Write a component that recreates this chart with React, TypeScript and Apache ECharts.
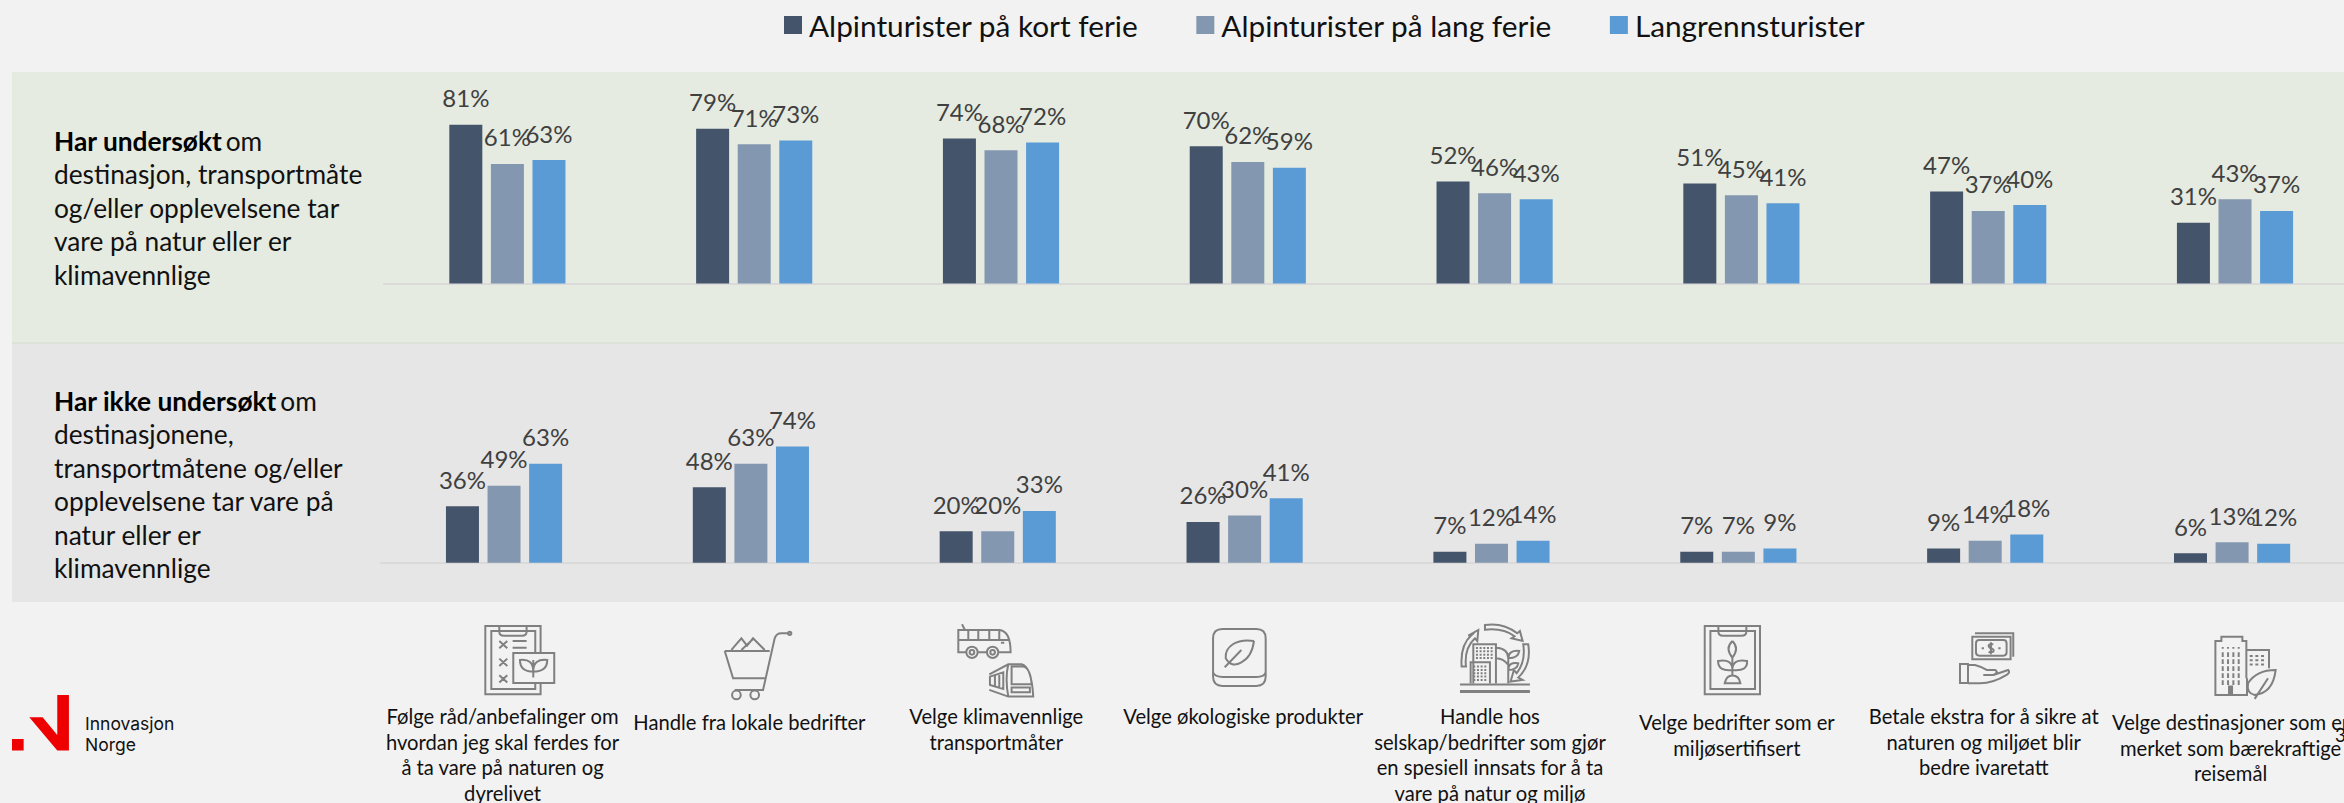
import React, { useEffect, useRef } from "react";
import * as echarts from "echarts";

const FONT = "Lato";
const categories = [
  "Følge råd/anbefalinger om\nhvordan jeg skal ferdes for\nå ta vare på naturen og\ndyrelivet",
  "Handle fra lokale bedrifter",
  "Velge klimavennlige\ntransportmåter",
  "Velge økologiske produkter",
  "Handle hos\nselskap/bedrifter som gjør\nen spesiell innsats for å ta\nvare på natur og miljø",
  "Velge bedrifter som er\nmiljøsertifisert",
  "Betale ekstra for å sikre at\nnaturen og miljøet blir\nbedre ivaretatt",
  "Velge destinasjoner som er\nmerket som bærekraftige\nreisemål",
];
const seriesNames = ["Alpinturister på kort ferie", "Alpinturister på lang ferie", "Langrennsturister"];
const colors = ["#44546A", "#8497B0", "#5B9BD5"];

const checkedKort = [81, 79, 74, 70, 52, 51, 47, 31];
const checkedLang = [61, 71, 68, 62, 46, 45, 37, 43];
const checkedLangrenn = [63, 73, 72, 59, 43, 41, 40, 37];
const uncheckedKort = [36, 48, 20, 26, 7, 7, 9, 6];
const uncheckedLang = [49, 63, 20, 30, 12, 7, 14, 13];
const uncheckedLangrenn = [63, 74, 33, 41, 14, 9, 18, 12];

const checkedText = "{b|Har undersøkt} {n|om}\n{n|destinasjon, transportmåte}\n{n|og/eller opplevelsene tar}\n{n|vare på natur eller er}\n{n|klimavennlige}";
const uncheckedText = "{b|Har ikke undersøkt} {n|om}\n{n|destinasjonene,}\n{n|transportmåtene og/eller}\n{n|opplevelsene tar vare på}\n{n|natur eller er}\n{n|klimavennlige}";

const circ = (x: number, y: number, r: number) =>
  `M${x - r} ${y}a${r} ${r} 0 1 0 ${2 * r} 0a${r} ${r} 0 1 0 ${-2 * r} 0Z`;
const rect = (x: number, y: number, w: number, h: number) => `M${x} ${y}h${w}v${h}h${-w}Z`;
const dots = (x0: number, y0: number, cols: number, rows: number, dx: number, dy: number, w: number, h: number) => {
  let d = "";
  for (let i = 0; i < cols; i++) for (let j = 0; j < rows; j++) d += rect(x0 + i * dx, y0 + j * dy, w, h);
  return d;
};

const ICONS: Record<string, string> = {
  i1:
    "M212 204V238H46V33H212V114M196 204V222H64V48H196V114M88 33V50Q88 62 102 62H156Q170 62 170 50V33" +
    "M88 78L112 100M112 78L88 100M88 131L112 153M112 131L88 153M88 181L112 203M112 181L88 203M128 78H170M128 98H170" +
    rect(130, 114, 123, 90) +
    "M190 135V188M190 170Q150 170 150 135Q190 130 190 170M190 170Q232 170 232 135Q190 130 190 170",
  i2:
    "M765 108H900M765 108L790 190H885M960 55H935Q920 55 915 70L880 225H795" +
    "M785 105L815 70L832 92L850 70L885 105M815 105L850 72" +
    circ(800, 240, 13) + circ(855, 240, 13) + circ(960, 55, 5),
  i3:
    "M82 112H55V45H180Q212 50 212 112H175M112 112H142M55 75H205M85 45V75M115 45V75M148 45V75M178 45V75M75 45L66 28M183 83H193" +
    circ(96, 112, 17) + circ(96, 112, 7) + circ(158, 112, 17) + circ(158, 112, 7) +
    "M148 178L205 148H245Q275 155 280 245H205L148 225M205 148Q195 190 205 245M215 155H250Q272 160 275 208H215Z" +
    rect(215, 218, 55, 14) + "M150 185L190 172V222L150 210ZM165 180V215M178 176V218",
  i4:
    "M848 42H950Q978 42 978 70V185Q978 213 950 213H848Q820 213 820 185V70Q820 42 848 42Z" +
    "M820 172Q825 186 850 186H950Q975 186 978 172" +
    "M943 78C890 70 855 95 858 130Q875 160 905 142C930 130 940 100 943 78M855 157L905 105",
  i5:
    "M60 209H270M100 205V88H168V142M92 205V142H150V205M168 142V205" +
    "M205 205V130M168 98Q205 100 205 130M205 130Q235 130 238 108Q205 105 205 130M205 165Q232 165 235 145Q205 140 205 165M168 130Q190 130 205 150" +
    "M135 30Q190 22 232 55L240 48L248 78L215 70L224 64Q190 38 135 44Z" +
    "M65 155Q60 90 95 60L85 62L115 45L112 78L105 70Q72 100 78 155Z" +
    "M250 88L265 88Q275 150 235 188L248 195L212 200L222 165L230 175Q258 140 250 88Z",
  i5dots: dots(108, 96, 5, 4, 11, 10, 6, 6) + dots(100, 152, 4, 5, 11, 10, 6, 6) + rect(60, 225, 210, 9),
  i6:
    rect(795, 33, 166, 205) + rect(812, 48, 134, 174) +
    "M836 33V50Q836 62 850 62H905Q920 62 920 50V33" +
    "M878 78Q855 100 878 128Q900 100 878 78M878 128V182M878 165Q835 170 835 138Q878 130 878 165M878 165Q925 170 922 138Q878 130 878 165M855 205Q860 182 878 182Q898 182 902 205Z",
  i7:
    "M105 55H220V125M97 65H212V133H97Z" +
    "M118 75H190Q200 75 200 85V112Q200 122 190 122H118Q108 122 108 112V85Q108 75 118 75Z" +
    "M160 88Q148 85 146 92Q148 100 155 100Q164 104 160 110Q152 114 146 110M153 82V118M125 100H132M175 100H182" +
    rect(60, 147, 24, 57) +
    "M84 150H105Q125 155 140 165H165Q178 172 160 180H130M160 180L205 165Q212 172 200 180Q160 205 120 205H84",
  i8:
    "M922 190V240H827V78H845V65H908V78H920V190M922 105H988V160M945 252L985 190M1008 165Q950 165 925 205Q920 235 945 240Q1000 235 1008 165Z",
  i8dots: dots(846, 96, 4, 1, 16, 0, 6, 5) + dots(846, 112, 4, 5, 16, 21, 6, 14) + dots(930, 120, 3, 3, 17, 13, 9, 6) + rect(865, 212, 15, 28),
  logo: "M88 97H128L172 150V30H207V197H172ZM36 162H71V197H36Z",
};
Object.keys(ICONS).forEach((k) => {
  echarts.graphic.registerShape("ico_" + k, echarts.graphic.extendPath(ICONS[k], {}));
});

const GREY = "#808080";
const icon = (k: string, x: number, y: number, fill = false) => ({
  type: "ico_" + k,
  x,
  y,
  scaleX: 1 / 3,
  scaleY: 1 / 3,
  silent: true,
  style: fill ? { fill: GREY, stroke: "none" } : { fill: "none", stroke: GREY, lineWidth: 6 },
});

const barSeries = (name: string, data: number[], color: string, idx: number) => ({
  name,
  type: "bar",
  xAxisIndex: idx,
  yAxisIndex: idx,
  data,
  barWidth: 33,
  barGap: "26%",
  itemStyle: { color },
  label: {
    show: true,
    position: "top",
    distance: 15,
    formatter: "{c}%",
    fontFamily: FONT,
    fontSize: 24,
    color: "#404040",
  },
});

const catData = categories.map((value, i) => ({
  value,
  textStyle: { padding: i === 1 || i === 5 || i === 7 ? [6, 3, 0, 0] : [0, 3, 0, 0] },
}));

export default function App() {
  const ref = useRef<HTMLDivElement>(null);
  useEffect(() => {
    const chart = echarts.init(ref.current!, undefined, { renderer: "svg" });
    const axisLine = { show: true, lineStyle: { color: "#DADADA", width: 2 } };
    const yAxis = (gridIndex: number) => ({ type: "value", gridIndex, min: 0, max: 100, show: false });
    const rich = {
      b: { fontFamily: FONT, fontSize: 26.3, fontWeight: "bold", lineHeight: 33.5, fill: "#000" },
      n: { fontFamily: FONT, fontSize: 26.3, lineHeight: 33.5, fill: "#111" },
    };
    chart.setOption({
      animation: false,
      backgroundColor: "#F2F2F2",
      legend: {
        left: 784,
        top: 10,
        padding: 0,
        icon: "rect",
        itemWidth: 18,
        itemHeight: 18,
        itemGap: 58,
        selectedMode: false,
        data: seriesNames,
        textStyle: { fontFamily: FONT, fontSize: 29.8, color: "#111111", padding: [0, 0, 0, 2] },
      },
      grid: [
        { left: 384, width: 1974.4, top: 87.5, height: 196, outerBoundsMode: "none" },
        { left: 380.6, width: 1974.9, top: 405.7, height: 157, outerBoundsMode: "none" },
      ],
      xAxis: [
        {
          type: "category",
          gridIndex: 0,
          data: categories,
          axisLine,
          axisTick: { show: false },
          axisLabel: { show: false },
        },
        {
          type: "category",
          gridIndex: 1,
          data: catData,
          axisLine,
          axisTick: { show: false },
          axisLabel: {
            show: true,
            interval: 0,
            margin: 141,
            hideOverlap: false,
            fontFamily: FONT,
            fontSize: 20.2,
            lineHeight: 25.5,
            color: "#111111",
            align: "center",
            verticalAlign: "top",
          },
        },
      ],
      yAxis: [yAxis(0), yAxis(1)],
      series: [
        barSeries(seriesNames[0], checkedKort, colors[0], 0),
        barSeries(seriesNames[1], checkedLang, colors[1], 0),
        barSeries(seriesNames[2], checkedLangrenn, colors[2], 0),
        barSeries(seriesNames[0], uncheckedKort, colors[0], 1),
        barSeries(seriesNames[1], uncheckedLang, colors[1], 1),
        barSeries(seriesNames[2], uncheckedLangrenn, colors[2], 1),
      ],
      graphic: [
        { type: "rect", z: -5, silent: true, shape: { x: 12, y: 72, width: 2332, height: 270 }, style: { fill: "#E5EBE0" } },
        { type: "rect", z: -5, silent: true, shape: { x: 12, y: 342, width: 2332, height: 2 }, style: { fill: "#DDE3D7" } },
        { type: "rect", z: -5, silent: true, shape: { x: 12, y: 344, width: 2332, height: 258 }, style: { fill: "#E6E6E6" } },
        { type: "text", x: 54, y: 124, silent: true, style: { text: checkedText, rich } },
        { type: "text", x: 54, y: 384, silent: true, style: { text: uncheckedText, rich } },
        icon("i1", 470, 615),
        icon("i2", 470, 615),
        icon("i3", 940, 615),
        icon("i4", 940, 615),
        icon("i5", 1440, 615),
        icon("i5dots", 1440, 615, true),
        icon("i6", 1440, 615),
        icon("i7", 1940, 615),
        icon("i8", 1940, 615),
        icon("i8dots", 1940, 615, true),
        {
          type: "ico_logo",
          x: 0,
          y: 685,
          scaleX: 1 / 3,
          scaleY: 1 / 3,
          silent: true,
          style: { fill: "#EE0000" },
        },
        {
          type: "text",
          x: 85,
          y: 713,
          silent: true,
          style: { text: "Innovasjon\nNorge", fontFamily: "Inter", fontSize: 17.5, lineHeight: 21, fill: "#111" },
        },
        {
          type: "text",
          x: 2335,
          y: 725,
          silent: true,
          style: { text: "3", fontFamily: FONT, fontSize: 19, fill: "#111" },
        },
      ],
    });
    return () => chart.dispose();
  }, []);
  return (
    <div
      ref={ref}
      style={{ position: "fixed", left: 0, top: 0, width: 2344, height: 803, overflow: "hidden" }}
    />
  );
}
